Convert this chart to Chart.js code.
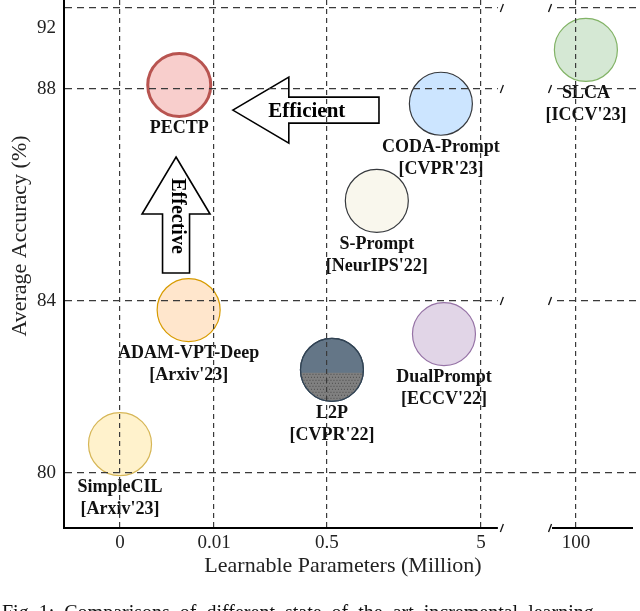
<!DOCTYPE html>
<html>
<head>
<meta charset="utf-8">
<script src="https://cdn.jsdelivr.net/npm/chart.js@4.4.0/dist/chart.umd.min.js"></script>
<style>
  html, body { margin: 0; padding: 0; background: #fff; }
</style>
</head>
<body>
<canvas id="myChart" width="640" height="611"></canvas>
<script>
// values
const methods = ['PECTP', 'ADAM-VPT-Deep', 'SimpleCIL', 'L2P', 'DualPrompt', 'CODA-Prompt', 'S-Prompt', 'SLCA'];
const venues = ['', "[Arxiv'23]", "[Arxiv'23]", "[CVPR'22]", "[ECCV'22]", "[CVPR'23]", "[NeurIPS'22]", "[ICCV'23]"];
const params = [0.0063, 0.0073, 0, 0.65, 3.92, 3.83, 1.96, 110];      // million
const accuracy = [88.26, 83.79, 80.67, 82.40, 83.23, 87.72, 85.89, 90.56]; // %
const xTickValues = [0, 0.01, 0.5, 5, 100];
const xTickLabels = ['0', '0.01', '0.5', '5', '100'];
const yTickValues = [80, 84, 88, 92];
const yTickLabels = ['80', '84', '88', '92'];

const fillColors = ['#f8cecc', '#ffe6cc', '#fff2cc', '#647687', '#e1d5e7', '#cce5ff', '#f9f7ed', '#d5e8d4'];
const edgeColors = ['#b85450', '#d79b00', '#d6b656', '#314354', '#9673a6', '#36393d', '#36393d', '#82b366'];
const edgeWidths = [3, 1.2, 1.2, 1.2, 1.2, 1.2, 1.2, 1.2];

// the axes are uneven (and x is broken), so each tick gets its own slot on a linear scale
const xSlots = [0, 1, 2.2, 3.84, 4.85];
const ySlots = [0, 1, 2.233, 2.587];
const yTopSlot = 2.703;          // dashed frame line along the top
const xBreak = [4.02, 4.596];     // gap between the two panels

const serif = "'Liberation Serif', 'Times New Roman', serif";
const gridColor = '#3a3a3a';

function toSlot(v, vals, slots) {
    let i = 0;
    while (i < vals.length - 2 && v > vals[i + 1]) i++;
    return slots[i] + (v - vals[i]) * (slots[i + 1] - slots[i]) / (vals[i + 1] - vals[i]);
}

const points = params.map((p, i) => ({
    x: toSlot(p, xTickValues, xSlots),
    y: toSlot(accuracy[i], yTickValues, ySlots)
}));

//method names + venues under each bubble
function drawLabels(chart) {
    const c = chart.ctx;
    const pts = chart.getDatasetMeta(0).data;
    c.save();
    c.fillStyle = '#111';
    c.textAlign = 'center';
    c.textBaseline = 'middle';
    c.font = 'bold 18px ' + serif;
    pts.forEach((p, i) => {
        const r = p.options.radius;
        c.fillText(methods[i], p.x, p.y + r + 12);
        if (venues[i]) c.fillText(venues[i], p.x, p.y + r + 34);
    });
    c.restore();
}

function poly(c, pts) {
    c.beginPath();
    c.moveTo(pts[0][0], pts[0][1]);
    for (let i = 1; i < pts.length; i++) c.lineTo(pts[i][0], pts[i][1]);
    c.closePath();
    c.fill();
    c.stroke();
}

// same pixel snapping chart.js uses for grid lines
function snap(chart, px, w) {
    const dpr = chart.currentDevicePixelRatio || 1;
    return Math.round((px - w / 2) * dpr) / dpr + w / 2;
}

const decor = {
    id: 'decor',
    afterDatasetsDraw(chart) {
        const c = chart.ctx, xs = chart.scales.x, ys = chart.scales.y;
        const pts = chart.getDatasetMeta(0).data;

        // L2P: lower half is a dotted grey fill
        const k = methods.indexOf('L2P');
        const p = pts[k], r = p.options.radius;
        c.save();
        c.beginPath();
        c.arc(p.x, p.y, r - 0.5, 0, Math.PI * 2);
        c.clip();
        c.fillStyle = '#808080';
        c.fillRect(p.x - r, p.y + 3, 2 * r, r);
        c.fillStyle = '#4a4a4a';
        let row = 0;
        for (let yy = p.y + 4; yy < p.y + r; yy += 3, row++) {
            for (let xx = p.x - r + (row % 2 ? 1.5 : 0); xx < p.x + r; xx += 3) c.fillRect(xx, yy, 1, 1);
        }
        c.restore();
        c.save();
        c.beginPath();
        c.arc(p.x, p.y, r, 0, Math.PI * 2);
        c.strokeStyle = edgeColors[k];
        c.lineWidth = edgeWidths[k];
        c.stroke();
        c.restore();

        // arrows
        c.save();
        c.fillStyle = '#fff';
        c.strokeStyle = '#000';
        c.lineWidth = 1.6;
        c.lineJoin = 'miter';
        // "Efficient" pointing left
        const tx = xs.getPixelForValue(1.2), tail = xs.getPixelForValue(2.755), ay = ys.getPixelForValue(2.11);
        const hx = tx + 56;
        poly(c, [[tx, ay], [hx, ay - 33], [hx, ay - 13], [tail, ay - 13], [tail, ay + 13], [hx, ay + 13], [hx, ay + 33]]);
        // "Effective" pointing up
        const ax = xs.getPixelForValue(0.596), ty = ys.getPixelForValue(1.837), tb = ys.getPixelForValue(1.163);
        const hy = ty + 57;
        poly(c, [[ax, ty], [ax + 34, hy], [ax + 13.5, hy], [ax + 13.5, tb], [ax - 13.5, tb], [ax - 13.5, hy], [ax - 34, hy]]);

        c.fillStyle = '#000';
        c.textAlign = 'center';
        c.textBaseline = 'middle';
        c.font = 'bold 21px ' + serif;
        c.fillText('Efficient', tx + 74, ay + 1);
        c.translate(ax + 1, ty + 59);
        c.rotate(Math.PI / 2);
        c.font = 'bold 20px ' + serif;
        c.fillText('Effective', 0, 0);
        c.restore();

        drawLabels(chart);
    },
    afterDraw(chart) {
        const c = chart.ctx, xs = chart.scales.x, ys = chart.scales.y;
        const area = chart.chartArea;
        const g0 = xs.getPixelForValue(xBreak[0]), g1 = xs.getPixelForValue(xBreak[1]);

        c.save();
        // cut the gap between the panels
        c.fillStyle = '#fff';
        c.fillRect(g0, area.top - 1, g1 - g0, area.bottom - area.top + 4);
        c.fillRect(area.right - 7, area.bottom - 3, 8, 6);

        // the 80 line runs straight through
        const y80 = snap(chart, ys.getPixelForValue(ySlots[0]), 1.2);
        c.strokeStyle = gridColor;
        c.lineWidth = 1.2;
        c.setLineDash([7, 5]);
        c.beginPath();
        c.moveTo(g0 - 2, y80);
        c.lineTo(g1 + 2, y80);
        c.stroke();

        // break marks
        c.setLineDash([]);
        c.strokeStyle = '#111';
        c.lineWidth = 1.3;
        const marksY = [ys.getPixelForValue(yTopSlot), ys.getPixelForValue(ySlots[2]), ys.getPixelForValue(ySlots[1]), area.bottom];
        marksY.forEach(y => {
            [g0 + 4, g1 - 2].forEach(x => {
                c.beginPath();
                c.moveTo(x - 1.5, y + 4);
                c.lineTo(x + 1.5, y - 4);
                c.stroke();
            });
        });

        // labels that spill into the gap
        c.beginPath();
        c.rect(g0, area.top, g1 - g0, area.bottom - area.top);
        c.clip();
        drawLabels(chart);
        c.restore();

        // axis titles and caption
        c.save();
        c.fillStyle = '#222';
        c.textAlign = 'center';
        c.textBaseline = 'middle';
        c.font = '22px ' + serif;
        c.fillText('Learnable Parameters (Million)', 343, 566);
        c.save();
        c.translate(20, 236);
        c.rotate(-Math.PI / 2);
        c.fillText('Average Accuracy (%)', 0, 0);
        c.restore();
        c.textAlign = 'left';
        c.textBaseline = 'alphabetic';
        c.fillStyle = '#111';
        c.font = '20px ' + serif;
        c.fillText('Fig. 1:  Comparisons  of  different  state  of  the  art  incremental  learning', 2, 619);
        c.restore();
    }
};

new Chart(document.getElementById('myChart'), {
    type: 'bubble',
    data: {
        datasets: [{
            data: points,
            backgroundColor: fillColors,
            borderColor: edgeColors,
            borderWidth: edgeWidths,
            radius: 31.5,
            clip: false
        }]
    },
    options: {
        responsive: false,
        animation: false,
        events: [],
        layout: { padding: 0, autoPadding: false },
        plugins: { legend: { display: false }, tooltip: { enabled: false } },
        scales: {
            x: {
                type: 'linear',
                min: -0.596,
                max: 5.532,
                afterBuildTicks: s => { s.ticks = xSlots.map(v => ({ value: v })); },
                afterFit: s => { s.height = 83; s.paddingLeft = 0; s.paddingRight = 0; },
                ticks: {
                    callback: (v, i) => xTickLabels[i],
                    autoSkip: false,
                    maxRotation: 0,
                    padding: 4,
                    color: '#222',
                    font: { family: serif, size: 19 }
                },
                grid: { color: gridColor, lineWidth: 1.2, drawTicks: false, z: 1 },
                border: { color: '#000', width: 2, dash: [5, 4], z: 1 }
            },
            y: {
                type: 'linear',
                min: -0.3198,
                max: 2.75,
                afterBuildTicks: s => { s.ticks = ySlots.concat([yTopSlot]).map(v => ({ value: v })); },
                afterFit: s => { s.width = 64; s.paddingTop = 0; s.paddingBottom = 0; },
                ticks: {
                    callback: (v, i) => yTickLabels[i] || '',
                    autoSkip: false,
                    padding: 8,
                    color: '#222',
                    font: { family: serif, size: 19 }
                },
                grid: {
                    color: c => (c.index === 3 ? 'rgba(0,0,0,0)' : gridColor),
                    lineWidth: 1.2,
                    drawTicks: false,
                    z: 1
                },
                border: { color: '#000', width: 2, dash: [7, 5], z: 1 }
            }
        }
    },
    plugins: [decor]
});
</script>
</body>
</html>
